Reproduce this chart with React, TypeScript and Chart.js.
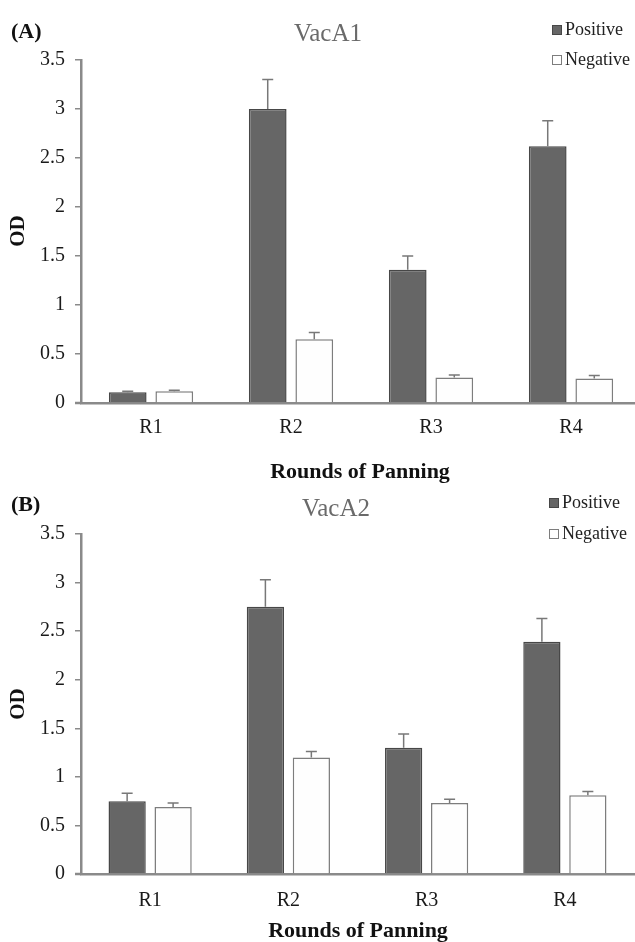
import React, { useEffect, useRef } from "react";
import { Chart, registerables } from "chart.js";

Chart.register(...registerables);

// ---------- data ----------
const categories = ["R1", "R2", "R3", "R4"];
const yTickLabels = ["0", "0.5", "1", "1.5", "2", "2.5", "3", "3.5"];
const seriesNames = ["Positive", "Negative"];

const vacA1Positive = [0.11, 3.0, 1.36, 2.62];
const vacA1PositiveErr = [0.01, 0.3, 0.14, 0.26];
const vacA1Negative = [0.12, 0.65, 0.26, 0.25];
const vacA1NegativeErr = [0.01, 0.07, 0.025, 0.03];

const vacA2Positive = [0.75, 2.75, 1.3, 2.39];
const vacA2PositiveErr = [0.08, 0.28, 0.14, 0.24];
const vacA2Negative = [0.69, 1.2, 0.73, 0.81];
const vacA2NegativeErr = [0.04, 0.06, 0.04, 0.04];

const panelLabels = ["(A)", "(B)"];
const panelTitles = ["VacA1", "VacA2"];
const xAxisTitle = "Rounds of Panning";
const yAxisTitle = "OD";

// ---------- styles ----------
const SERIF = "'Liberation Serif', 'Times New Roman', serif";
const AXIS_COLOR = "#8a8a8a";
const POS_FILL = "#666666";
const POS_BORDER = "#474747";
const NEG_FILL = "#fefefe";
const NEG_BORDER = "#7d7d7d";
const ERR_COLOR = "#787878";

const errorBarPlugin = {
  id: "errorBars",
  afterDatasetsDraw(chart: any) {
    const ctx = chart.ctx;
    const yScale = chart.scales.y;
    chart.data.datasets.forEach((ds: any, i: number) => {
      const meta = chart.getDatasetMeta(i);
      const errs = ds.errors || [];
      meta.data.forEach((el: any, j: number) => {
        const v = ds.data[j];
        const e = errs[j];
        if (e == null) return;
        const top = yScale.getPixelForValue(v + e);
        ctx.save();
        ctx.strokeStyle = ERR_COLOR;
        ctx.lineWidth = 1.5;
        ctx.beginPath();
        ctx.moveTo(el.x, el.y);
        ctx.lineTo(el.x, top);
        ctx.moveTo(el.x - 5.5, top);
        ctx.lineTo(el.x + 5.5, top);
        ctx.stroke();
        ctx.restore();
      });
    });
  },
};

const decorPlugin = {
  id: "decor",
  afterDraw(chart: any) {
    const o = chart.options.plugins.decor;
    if (!o) return;
    const ctx = chart.ctx;
    const area = chart.chartArea;
    ctx.save();
    // small extension of the x axis line to the left of the y axis
    ctx.strokeStyle = AXIS_COLOR;
    ctx.lineWidth = 2.5;
    ctx.beginPath();
    ctx.moveTo(area.left - 6, area.bottom);
    ctx.lineTo(area.left, area.bottom);
    ctx.stroke();
    // panel label
    ctx.fillStyle = "#111";
    ctx.font = `bold 22px ${SERIF}`;
    ctx.textAlign = "left";
    ctx.textBaseline = "middle";
    ctx.fillText(o.label, o.labelX, o.labelY);
    // title
    ctx.fillStyle = "#6a6a6a";
    ctx.font = `25px ${SERIF}`;
    ctx.textAlign = "center";
    ctx.fillText(o.title, o.titleX, o.titleY);
    // legend
    ctx.font = `18px ${SERIF}`;
    ctx.textAlign = "left";
    const fills = [POS_FILL, NEG_FILL];
    const borders = [POS_BORDER, NEG_BORDER];
    o.legendYs.forEach((ly: number, i: number) => {
      ctx.fillStyle = fills[i];
      ctx.fillRect(o.legendX, ly - 5, 10, 10);
      ctx.strokeStyle = borders[i];
      ctx.lineWidth = 1;
      ctx.strokeRect(o.legendX + 0.5, ly - 4.5, 9, 9);
      ctx.fillStyle = "#222";
      ctx.fillText(seriesNames[i], o.legendX + 13, ly);
    });
    // x axis title
    ctx.fillStyle = "#111";
    ctx.font = `bold 22px ${SERIF}`;
    ctx.textAlign = "center";
    ctx.fillText(xAxisTitle, o.xTitleX, o.xTitleY);
    // y axis title
    ctx.translate(o.yTitleX, o.yTitleY);
    ctx.rotate(-Math.PI / 2);
    ctx.font = `bold 21px ${SERIF}`;
    ctx.fillText(yAxisTitle, 0, 0);
    ctx.restore();
  },
};

type PanelProps = {
  top: number;
  width: number;
  height: number;
  area: { left: number; top: number; right: number; bottom: number };
  positive: number[];
  positiveErr: number[];
  negative: number[];
  negativeErr: number[];
  decor: any;
  tickPad: number;
};

function Panel(p: PanelProps) {
  const ref = useRef<HTMLCanvasElement>(null);
  useEffect(() => {
    const canvas = ref.current!;
    const chart = new Chart(canvas, {
      type: "bar",
      data: {
        labels: categories,
        datasets: [
          {
            label: seriesNames[0],
            data: p.positive,
            errors: p.positiveErr,
            backgroundColor: POS_FILL,
            borderColor: POS_BORDER,
            borderWidth: 1.5,
          } as any,
          {
            label: seriesNames[1],
            data: p.negative,
            errors: p.negativeErr,
            backgroundColor: NEG_FILL,
            borderColor: NEG_BORDER,
            borderWidth: 1.5,
          } as any,
        ],
      },
      options: {
        responsive: false,
        animation: false,
        devicePixelRatio: 1,
        datasets: { bar: { categoryPercentage: 0.665, barPercentage: 0.81 } },
        layout: {
          padding: {
            top: p.area.top,
            left: 0,
            right: p.width - p.area.right,
            bottom: 0,
          },
        },
        plugins: {
          legend: { display: false },
          title: { display: false },
          tooltip: { enabled: false },
          decor: p.decor,
        } as any,
        scales: {
          x: {
            grid: { display: false, drawTicks: false },
            border: { display: true, color: AXIS_COLOR, width: 2.5 },
            ticks: {
              color: "#1a1a1a",
              font: { family: SERIF, size: 20 },
              padding: p.tickPad,
              maxRotation: 0,
            },
            afterFit: (s: any) => {
              s.height = p.height - p.area.bottom;
            },
          },
          y: {
            min: 0,
            max: 3.5,
            grid: {
              display: true,
              drawOnChartArea: false,
              drawTicks: true,
              tickLength: 6,
              color: AXIS_COLOR,
              lineWidth: 1.5,
            },
            border: { display: true, color: AXIS_COLOR, width: 2.5 },
            ticks: {
              stepSize: 0.5,
              color: "#1a1a1a",
              font: { family: SERIF, size: 20 },
              padding: 10,
              callback: (_v: any, i: number) => yTickLabels[i],
            },
            afterFit: (s: any) => {
              s.width = p.area.left;
            },
          },
        },
      },
      plugins: [errorBarPlugin, decorPlugin],
    });
    return () => chart.destroy();
  }, []);
  return (
    <canvas
      ref={ref}
      width={p.width}
      height={p.height}
      style={{ position: "absolute", left: 0, top: p.top, width: p.width, height: p.height }}
    />
  );
}

export default function App() {
  return (
    <div
      style={{
        position: "absolute",
        left: 0,
        top: 0,
        width: 635,
        height: 942,
        overflow: "hidden",
        background: "#ffffff",
      }}
    >
      <Panel
        top={0}
        width={660}
        height={488}
        area={{ left: 81, top: 60, right: 641, bottom: 403 }}
        positive={vacA1Positive}
        positiveErr={vacA1PositiveErr}
        negative={vacA1Negative}
        negativeErr={vacA1NegativeErr}
        tickPad={13}
        decor={{
          label: panelLabels[0],
          labelX: 11,
          labelY: 32,
          title: panelTitles[0],
          titleX: 328,
          titleY: 34,
          legendX: 552,
          legendYs: [30, 60],
          xTitleX: 360,
          xTitleY: 472,
          yTitleX: 19,
          yTitleY: 231,
        }}
      />
      <Panel
        top={480}
        width={660}
        height={462}
        area={{ left: 81, top: 54, right: 634, bottom: 394 }}
        positive={vacA2Positive}
        positiveErr={vacA2PositiveErr}
        negative={vacA2Negative}
        negativeErr={vacA2NegativeErr}
        tickPad={15}
        decor={{
          label: panelLabels[1],
          labelX: 11,
          labelY: 25,
          title: panelTitles[1],
          titleX: 336,
          titleY: 29,
          legendX: 549,
          legendYs: [23, 54],
          xTitleX: 358,
          xTitleY: 451,
          yTitleX: 19,
          yTitleY: 224,
        }}
      />
    </div>
  );
}
